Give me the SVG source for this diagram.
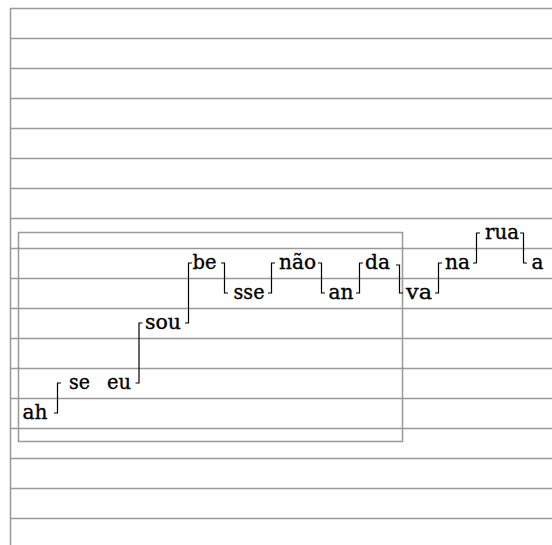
<svg xmlns="http://www.w3.org/2000/svg" width="552" height="545" viewBox="0 0 552 545">
<style>
.g{stroke:#999;stroke-width:1.5;fill:none}
.t{font-family:'DejaVu Serif',serif;font-size:21px;fill:#000;stroke:#000;stroke-width:0.35}
.c{stroke:#000;stroke-width:1.2;fill:none}
</style>
<rect width="552" height="545" fill="#fff"/>
<g id="staff">
<path class="g" d="M10,8.5H552M10,38.5H552M10,68.5H552M10,98.5H552M10,128.5H552M10,158.5H552M10,188.5H552M10,218.5H552M10,248.5H552M10,278.5H552M10,308.5H552M10,338.5H552M10,368.5H552M10,398.5H552M10,428.5H552M10,458.5H552M10,488.5H552M10,518.5H552M10.5,8.5V545"/>
<rect class="g" x="18.5" y="232.5" width="384" height="209"/>
</g>
<g id="connectors">
<path class="c" d="M54,413H57.5V383H61"/>
<path class="c" d="M135.5,383H139V323H142.5"/>
<path class="c" d="M185,323H188.5V263H192"/>
<path class="c" d="M221,263H224.5V293H228"/>
<path class="c" d="M268,293H271.5V263H275"/>
<path class="c" d="M318,263H321.5V293H325"/>
<path class="c" d="M356,293H359.5V263H363"/>
<path class="c" d="M396,265H399.5V293H403"/>
<path class="c" d="M435,293H438.5V263H442"/>
<path class="c" d="M473,263H476.5V233H480"/>
<path class="c" d="M520,233H523.5V263H527"/>
</g>
<g id="ah"><text class="t" x="22.5" y="419" textLength="25" lengthAdjust="spacingAndGlyphs">ah</text></g>
<g id="se"><text class="t" x="69" y="389" textLength="21" lengthAdjust="spacingAndGlyphs">se</text></g>
<g id="eu"><text class="t" x="107" y="389" textLength="24" lengthAdjust="spacingAndGlyphs">eu</text></g>
<g id="sou"><text class="t" x="145" y="329" textLength="36" lengthAdjust="spacingAndGlyphs">sou</text></g>
<g id="be"><text class="t" x="192.5" y="269" textLength="24" lengthAdjust="spacingAndGlyphs">be</text></g>
<g id="sse"><text class="t" x="233.5" y="299" textLength="31" lengthAdjust="spacingAndGlyphs">sse</text></g>
<g id="nao"><text class="t" x="279" y="269" textLength="37" lengthAdjust="spacingAndGlyphs">não</text></g>
<g id="an"><text class="t" x="328.5" y="299" textLength="25" lengthAdjust="spacingAndGlyphs">an</text></g>
<g id="da"><text class="t" x="365" y="269" textLength="25" lengthAdjust="spacingAndGlyphs">da</text></g>
<g id="va"><text class="t" x="406" y="299" textLength="26" lengthAdjust="spacingAndGlyphs">va</text></g>
<g id="na"><text class="t" x="445" y="269" textLength="25" lengthAdjust="spacingAndGlyphs">na</text></g>
<g id="rua"><text class="t" x="485" y="239" textLength="34" lengthAdjust="spacingAndGlyphs">rua</text></g>
<g id="a"><text class="t" x="531.5" y="269" textLength="12" lengthAdjust="spacingAndGlyphs">a</text></g>
</svg>
